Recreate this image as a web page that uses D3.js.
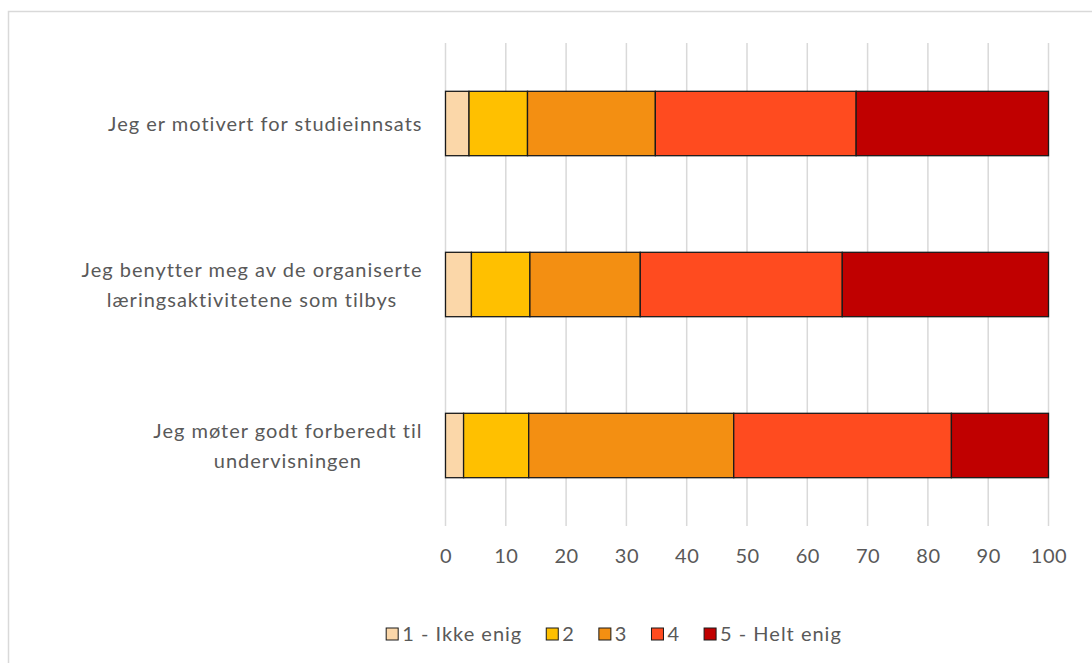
<!DOCTYPE html>
<html>
<head>
<meta charset="utf-8">
<script src="https://cdn.jsdelivr.net/npm/d3@7"></script>
<style>
  body { margin: 0; background: #fff; }
  text { font-family: Lato, "Open Sans", sans-serif; fill: #595959; }
</style>
</head>
<body>
<div id="chart"></div>
<script>
const statements = [
    ["Jeg er motivert for studieinnsats"],
    ["Jeg benytter meg av de organiserte", "læringsaktivitetene som tilbys"],
    ["Jeg møter godt forberedt til", "undervisningen"]
]
const levels = ["1 - Ikke enig", "2", "3", "4", "5 - Helt enig"]
const level1 = [3.9, 4.3, 3.0]
const level2 = [9.7, 9.7, 10.8]
const level3 = [21.2, 18.3, 34.0]
const level4 = [33.3, 33.5, 36.1]
const level5 = [31.9, 34.2, 16.1]
const xTicks = [0, 10, 20, 30, 40, 50, 60, 70, 80, 90, 100]
const colors = ["#FBD7A9", "#FFC000", "#F38F12", "#FF4B1F", "#C00000"]

const W = 1092, H = 663
const margin = {top: 43, left: 445.5, right: 43.5, bottom: 137}

const svg = d3.select("#chart")
    .append("svg")
    .attr("width", W)
    .attr("height", H)

// chart frame
svg.append("rect")
    .attr("x", 8.5).attr("y", 11.5)
    .attr("width", W).attr("height", H)
    .attr("fill", "none")
    .attr("stroke", "#d9d9d9")
    .attr("stroke-width", 1.5)

const x = d3.scaleLinear()
    .domain([0, 100])
    .range([margin.left, W - margin.right])

const y = d3.scaleBand()
    .domain(d3.range(statements.length))
    .range([margin.top, H - margin.bottom])
    .paddingInner(0.6)
    .paddingOuter(0.3)

// gridlines
svg.append("g")
    .selectAll("line")
    .data(xTicks)
    .join("line")
        .attr("x1", d => x(d)).attr("x2", d => x(d))
        .attr("y1", margin.top).attr("y2", H - margin.bottom)
        .attr("stroke", "#d9d9d9")
        .attr("stroke-width", 1.5)

const rows = statements.map((s, i) => ({i, vals: [level1[i], level2[i], level3[i], level4[i], level5[i]]}))
const segs = rows.flatMap(r => {
    let acc = 0
    return r.vals.map((v, k) => { const d = {row: r.i, k, x0: acc, x1: acc + v}; acc += v; return d })
})

svg.append("g")
    .selectAll("rect")
    .data(segs)
    .join("rect")
        .attr("x", d => x(d.x0))
        .attr("y", d => y(d.row))
        .attr("width", d => x(d.x1) - x(d.x0))
        .attr("height", y.bandwidth())
        .attr("fill", d => colors[d.k])
        .attr("stroke", "#1a1a1a")
        .attr("stroke-width", 1.3)

// x axis labels
const xAxis = svg.append("g")
    .attr("transform", `translate(0, ${H - margin.bottom + 30})`)
    .call(d3.axisBottom(x).tickValues(xTicks).tickSize(0).tickPadding(0))
xAxis.select(".domain").remove()
xAxis.selectAll("text")
    .attr("font-size", 20)
    .attr("font-family", "Lato, sans-serif")
    .attr("fill", "#595959")
    .attr("letter-spacing", 0.5)
    .attr("dy", "0.35em")

// category labels
const lineH = 30
const catLabels = svg.append("g")
    .selectAll("text")
    .data(statements)
    .join("text")
        .attr("font-size", 20)
        .attr("letter-spacing", 1)
        .attr("text-anchor", "middle")
        .attr("y", (d, i) => y(i) + y.bandwidth() / 2)
catLabels.each(function(lines) {
    const t = d3.select(this)
    lines.forEach((ln, j) => {
        t.append("tspan")
            .attr("x", 0)
            .attr("dy", j === 0 ? ((-(lines.length - 1) / 2) * lineH + 7) : lineH)
            .text(ln)
    })
    const w = this.getBBox().width
    t.attr("transform", `translate(${margin.left - 23 - w / 2}, 0)`)
})

// legend
const legend = svg.append("g").attr("transform", `translate(0, 634)`)
const items = legend.selectAll("g")
    .data(levels)
    .join("g")
items.append("rect")
    .attr("width", 12).attr("height", 12)
    .attr("y", -6)
    .attr("fill", (d, i) => colors[i])
    .attr("stroke", "#1a1a1a")
    .attr("stroke-width", 1)
items.append("text")
    .attr("x", 16)
    .attr("dy", "0.35em")
    .attr("font-size", 20)
    .attr("letter-spacing", 1)
    .text(d => d)
let lx = 0
const offs = []
items.each(function() {
    offs.push(lx)
    lx += this.getBBox().width + 24
})
const totalW = lx - 24
const start = 614 - totalW / 2
items.attr("transform", (d, i) => `translate(${start + offs[i]}, 0)`)
</script>
</body>
</html>
